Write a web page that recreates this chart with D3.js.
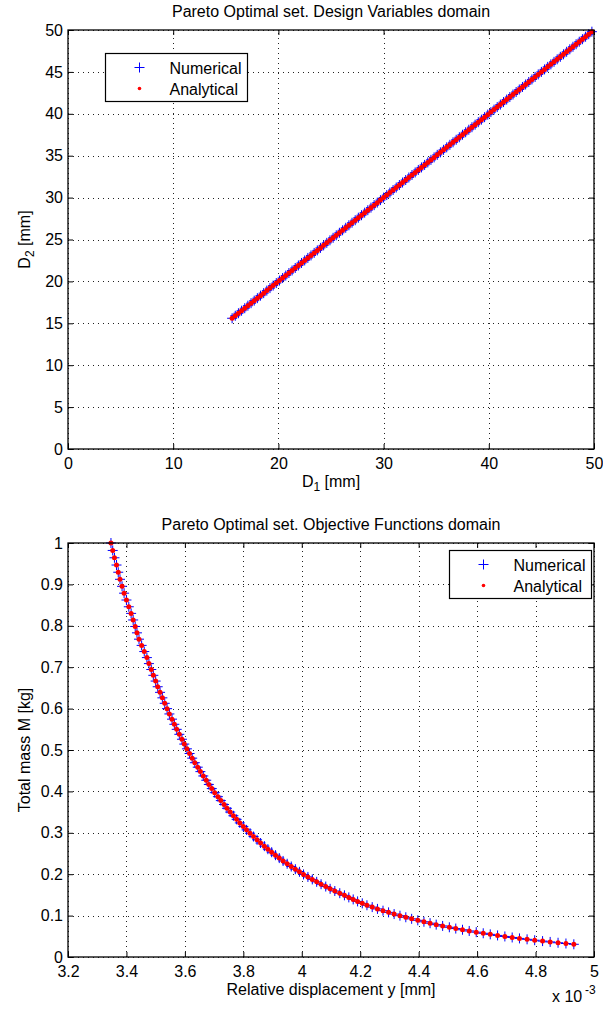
<!DOCTYPE html>
<html><head><meta charset="utf-8">
<script src="https://cdn.jsdelivr.net/npm/d3@7"></script>
<style>
html,body{margin:0;padding:0;background:#fff;}
svg{display:block;font-family:"Liberation Sans",Arial,Helvetica,sans-serif;}
</style></head><body>
<svg id="c" width="603" height="1012"></svg>
<script>
// ---- Data ----
// Design variables (mm): D1 and D2 along the Pareto set
const D1 = [15.6,15.9,16.2,16.5,16.8,17.1,17.4,17.7,18.0,18.3,18.6,18.9,19.2,19.5,19.8,20.1,20.4,20.7,21.0,21.3,21.6,21.9,22.2,22.5,22.8,23.1,23.4,23.7,24.0,24.3,24.6,24.9,25.2,25.5,25.8,26.1,26.4,26.7,27.0,27.3,27.6,27.9,28.2,28.5,28.8,29.1,29.4,29.7,30.0,30.3,30.6,30.9,31.2,31.5,31.8,32.1,32.4,32.7,33.0,33.3,33.6,33.9,34.2,34.5,34.8,35.1,35.4,35.7,36.0,36.3,36.6,36.9,37.2,37.5,37.8,38.1,38.4,38.7,39.0,39.3,39.6,39.9,40.2,40.5,40.8,41.1,41.4,41.7,42.0,42.3,42.6,42.9,43.2,43.5,43.8,44.1,44.4,44.7,45.0,45.3,45.6,45.9,46.2,46.5,46.8,47.1,47.4,47.7,48.0,48.3,48.6,48.9,49.2,49.5,49.8];
const D2 = [15.6,15.9,16.2,16.5,16.8,17.1,17.4,17.7,18.0,18.3,18.6,18.9,19.2,19.5,19.8,20.1,20.4,20.7,21.0,21.3,21.6,21.9,22.2,22.5,22.8,23.1,23.4,23.7,24.0,24.3,24.6,24.9,25.2,25.5,25.8,26.1,26.4,26.7,27.0,27.3,27.6,27.9,28.2,28.5,28.8,29.1,29.4,29.7,30.0,30.3,30.6,30.9,31.2,31.5,31.8,32.1,32.4,32.7,33.0,33.3,33.6,33.9,34.2,34.5,34.8,35.1,35.4,35.7,36.0,36.3,36.6,36.9,37.2,37.5,37.8,38.1,38.4,38.7,39.0,39.3,39.6,39.9,40.2,40.5,40.8,41.1,41.4,41.7,42.0,42.3,42.6,42.9,43.2,43.5,43.8,44.1,44.4,44.7,45.0,45.3,45.6,45.9,46.2,46.5,46.8,47.1,47.4,47.7,48.0,48.3,48.6,48.9,49.2,49.5,49.8];
// Objective functions: relative displacement y (x 10^-3 mm) and total mass M (kg)
const dispY = [4.931,4.904,4.877,4.850,4.824,4.797,4.771,4.745,4.720,4.695,4.670,4.645,4.621,4.597,4.573,4.550,4.527,4.505,4.482,4.460,4.439,4.418,4.397,4.376,4.356,4.336,4.316,4.297,4.278,4.259,4.241,4.223,4.207,4.191,4.176,4.161,4.146,4.130,4.113,4.097,4.082,4.066,4.051,4.036,4.021,4.006,3.992,3.978,3.964,3.950,3.936,3.923,3.910,3.897,3.884,3.872,3.859,3.847,3.835,3.823,3.811,3.800,3.788,3.777,3.766,3.755,3.744,3.734,3.723,3.713,3.702,3.692,3.682,3.673,3.663,3.653,3.644,3.634,3.625,3.616,3.607,3.598,3.590,3.581,3.572,3.564,3.556,3.547,3.539,3.531,3.523,3.515,3.507,3.500,3.492,3.485,3.477,3.470,3.461,3.452,3.443,3.436,3.430,3.423,3.416,3.408,3.400,3.392,3.385,3.378,3.372,3.366,3.359,3.353,3.347];
const mass = [0.0307,0.0326,0.0344,0.0364,0.0384,0.0405,0.0427,0.0449,0.0472,0.0496,0.0521,0.0547,0.0573,0.0600,0.0629,0.0658,0.0687,0.0718,0.0750,0.0782,0.0816,0.0851,0.0886,0.0922,0.0960,0.0998,0.1037,0.1078,0.1119,0.1162,0.1205,0.1250,0.1296,0.1343,0.1391,0.1440,0.1490,0.1541,0.1594,0.1647,0.1702,0.1758,0.1816,0.1874,0.1934,0.1995,0.2058,0.2121,0.2186,0.2252,0.2320,0.2389,0.2459,0.2531,0.2604,0.2678,0.2754,0.2831,0.2910,0.2990,0.3071,0.3154,0.3239,0.3325,0.3412,0.3501,0.3592,0.3684,0.3778,0.3873,0.3970,0.4068,0.4168,0.4270,0.4373,0.4478,0.4585,0.4693,0.4803,0.4915,0.5028,0.5143,0.5260,0.5379,0.5499,0.5621,0.5745,0.5871,0.5999,0.6128,0.6260,0.6393,0.6528,0.6665,0.6804,0.6944,0.7087,0.7232,0.7378,0.7527,0.7677,0.7830,0.7984,0.8141,0.8300,0.8460,0.8623,0.8788,0.8954,0.9123,0.9294,0.9468,0.9643,0.9820,1.0000];

const topXTicks = [0,10,20,30,40,50];
const topYTicks = [0,5,10,15,20,25,30,35,40,45,50];
const botXTicks = [3.2,3.4,3.6,3.8,4,4.2,4.4,4.6,4.8,5];
const botYTicks = [0,0.1,0.2,0.3,0.4,0.5,0.6,0.7,0.8,0.9,1];
const seriesNames = ["Numerical","Analytical"];
const titles = ["Pareto Optimal set. Design Variables domain","Pareto Optimal set. Objective Functions domain"];

// ---- Drawing ----
const svg = d3.select("#c");
const FS = 16;
const fmt = d => String(+(+d).toFixed(1));

const panels = [
  {top:30, bottom:449, left:68, right:594, xDom:[0,50], yDom:[0,50],
   xT:topXTicks, yT:topYTicks, xs:D1, ys:D2, title:titles[0], titleY:17,
   legend:[105.5,53.5], xlabY:487, ylabY:239.5,
   xlab:["D","1"," [mm]"], ylab:["D","2"," [mm]"]},
  {top:543, bottom:957, left:68, right:594, xDom:[3.2,5], yDom:[0,1],
   xT:botXTicks, yT:botYTicks, xs:dispY, ys:mass, title:titles[1], titleY:530,
   legend:[449.5,550.5], xlabY:995, ylabY:750,
   xlab:["Relative displacement y [mm]"], ylab:["Total mass M [kg]"]}
];

panels.forEach(p => {
  const W = p.right - p.left, H = p.bottom - p.top;
  const x = d3.scaleLinear().domain(p.xDom).range([p.left, p.right]);
  const y = d3.scaleLinear().domain(p.yDom).range([p.bottom, p.top]);
  const g = svg.append("g");

  g.append("rect").attr("x",p.left).attr("y",p.top).attr("width",W).attr("height",H).attr("fill","#fff");

  // grid
  const gx = g.append("g").attr("transform",`translate(0,${p.bottom})`)
    .call(d3.axisBottom(x).tickValues(p.xT).tickSize(-H).tickFormat(""));
  const gy = g.append("g").attr("transform",`translate(${p.left},0)`)
    .call(d3.axisLeft(y).tickValues(p.yT).tickSize(-W).tickFormat(""));
  [gx,gy].forEach(a => {
    a.select(".domain").remove();
    a.selectAll("line").attr("stroke","#222").attr("stroke-width",1)
      .attr("stroke-dasharray","1,4").attr("shape-rendering","crispEdges");
  });

  // axes with inward ticks on all four sides
  const ab = g.append("g").attr("transform",`translate(0,${p.bottom})`)
    .call(d3.axisBottom(x).tickValues(p.xT).tickSize(-5).tickPadding(9).tickFormat(fmt));
  const at = g.append("g").attr("transform",`translate(0,${p.top})`)
    .call(d3.axisTop(x).tickValues(p.xT).tickSize(-5).tickFormat(""));
  const al = g.append("g").attr("transform",`translate(${p.left},0)`)
    .call(d3.axisLeft(y).tickValues(p.yT).tickSize(-5).tickPadding(5).tickFormat(fmt));
  const ar = g.append("g").attr("transform",`translate(${p.right},0)`)
    .call(d3.axisRight(y).tickValues(p.yT).tickSize(-5).tickFormat(""));
  [ab,at,al,ar].forEach(a => {
    a.select(".domain").remove();
    a.selectAll("line").attr("stroke","#000").attr("stroke-width",1);
    a.selectAll("text").attr("font-size",FS).attr("font-family",null).attr("fill","#000");
  });

  // data: numerical (+) then analytical (red dots)
  g.append("g").selectAll("path").data(p.xs).join("path")
    .attr("d", (d,i) => `M${x(d)-5},${y(p.ys[i])}h10M${x(d)},${y(p.ys[i])-5}v10`)
    .attr("stroke","#0000ff").attr("stroke-width",1).attr("fill","none");
  g.append("g").selectAll("circle").data(p.xs).join("circle")
    .attr("cx", d => x(d)).attr("cy", (d,i) => y(p.ys[i])).attr("r",2.5).attr("fill","#ff0000");

  // box
  g.append("rect").attr("x",p.left).attr("y",p.top).attr("width",W).attr("height",H)
    .attr("fill","none").attr("stroke","#000").attr("stroke-width",1.3);

  // title
  g.append("text").attr("x",(p.left+p.right)/2).attr("y",p.titleY).attr("text-anchor","middle")
    .attr("font-size",FS).text(p.title);

  // x label
  const xl = g.append("text").attr("x",(p.left+p.right)/2).attr("y",p.xlabY).attr("text-anchor","middle").attr("font-size",FS);
  if (p.xlab.length === 3) {
    xl.append("tspan").text(p.xlab[0]);
    xl.append("tspan").attr("dy",4).attr("font-size",12).text(p.xlab[1]);
    xl.append("tspan").attr("dy",-4).text(p.xlab[2]);
  } else xl.text(p.xlab[0]);

  // y label
  const yl = g.append("text").attr("transform",`translate(30,${p.ylabY}) rotate(-90)`).attr("text-anchor","middle").attr("font-size",FS);
  if (p.ylab.length === 3) {
    yl.append("tspan").text(p.ylab[0]);
    yl.append("tspan").attr("dy",4).attr("font-size",12).text(p.ylab[1]);
    yl.append("tspan").attr("dy",-4).text(p.ylab[2]);
  } else yl.text(p.ylab[0]);

  // legend
  const [lx,ly] = p.legend;
  const lg = g.append("g").attr("transform",`translate(${lx},${ly})`);
  lg.append("rect").attr("width",142).attr("height",48).attr("fill","#fff").attr("stroke","#000").attr("stroke-width",1.2);
  lg.append("path").attr("d","M29,14h10M34,9v10").attr("stroke","#0000ff").attr("stroke-width",1);
  lg.append("circle").attr("cx",34).attr("cy",35).attr("r",1.8).attr("fill","#ff0000");
  lg.selectAll("text.l").data(seriesNames).join("text").attr("class","l")
    .attr("x",64).attr("y",(d,i) => 20 + i*21).attr("font-size",FS).text(d => d);
});

// exponent label for bottom x axis
svg.append("text").attr("x",552).attr("y",1002).attr("font-size",FS).text("x 10");
svg.append("text").attr("x",585).attr("y",994).attr("font-size",12).text("-3");
</script>
</body></html>
